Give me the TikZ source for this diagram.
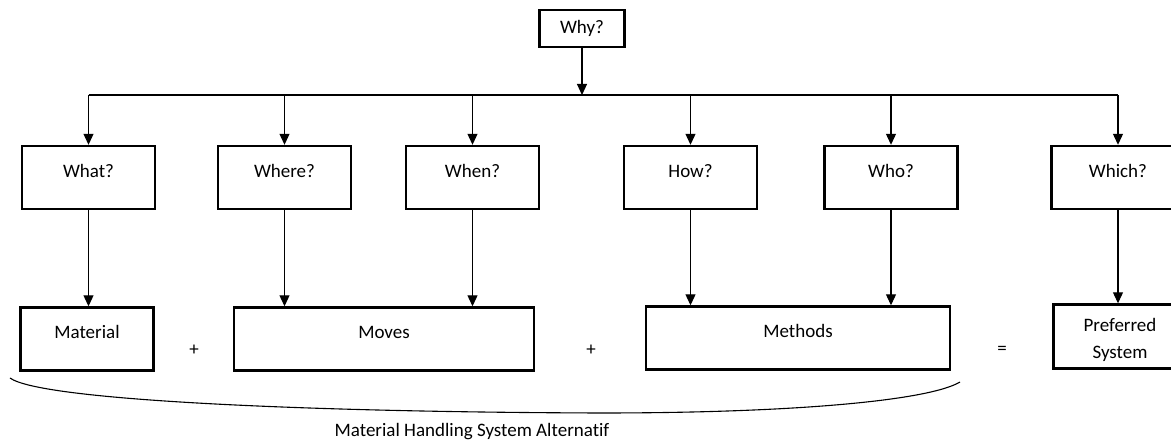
\documentclass[tikz,border=0pt]{standalone}
\usepackage{fontspec}
\setmainfont{Carlito}[Ligatures={NoCommon}]
\usetikzlibrary{arrows.meta}

\begin{document}
\begin{tikzpicture}[x=1pt, y=-1pt,
every node/.style={font=\fontsize{19}{27}\selectfont},
qbox/.style={draw, line width=2.4pt, minimum width=133pt, minimum height=63pt, inner sep=0pt, text height=14pt, text depth=14pt},
link/.style={line width=1.1pt, -{Triangle[width=10pt,length=11pt]}}
]
\useasboundingbox (0,0) rectangle (1171,443);

\node[draw, line width=2.4pt, minimum width=85pt, minimum height=37pt](why) at(582,28.5) {Why?};
\coordinate(bus) at(0,95);

\begin{scope}[every node/.append style={qbox}]
\node(what) at(88.5,177.5) {What?};
\node(where) at(284.5,177.5) {Where?};
\node(when) at(472.5,177.5) {When?};
\node(how) at(690.5,177.5) {How?};
\node(who) at(891,177.5) {Who?};
\node(which) at(1118,177.5) {Which?};

\node(material) at(87,339) {Material};
\node[minimum width=300pt](moves) at(384,339) {Moves};
\node[minimum width=304pt](methods) at(798,338) {Methods};
\end{scope}
\node[draw, line width=2.4pt, minimum width=133pt, minimum height=64pt, inner sep=0pt, align=center](preferred) at(1120,336.5) {\rule{0pt}{21pt}Preferred\\System};

\node(plus1) at(194,350) {+};
\node(plus2) at(591,350) {+};
\node(equals) at(1002,350) {=};

\draw[link] (why.south) -- (why.south |- bus);
\draw[line width=1.1pt] (what.north |- bus) -- (which.north |- bus);
\foreach \q in {what,where,when,how,who,which}
  \draw[link] (\q.north |- bus) -- (\q.north);

\draw[link] (what.south) -- (what.south |- material.north);
\draw[link] (where.south) -- (where.south |- moves.north);
\draw[link] (when.south) -- (when.south |- moves.north);
\draw[link] (how.south) -- (how.south |- methods.north);
\draw[link] (who.south) -- (who.south |- methods.north);
\draw[link] (which.south) -- (which.south |- preferred.north);

\draw[line width=1.1pt]
(10,378) .. controls (40,400) and (300,412) ..
(600,413) .. controls (800,413) and (930,400) ..
(960,382)
;
\node(alternatif) at(472,432) {Material Handling System Alternatif};

\end{tikzpicture}
\end{document}
